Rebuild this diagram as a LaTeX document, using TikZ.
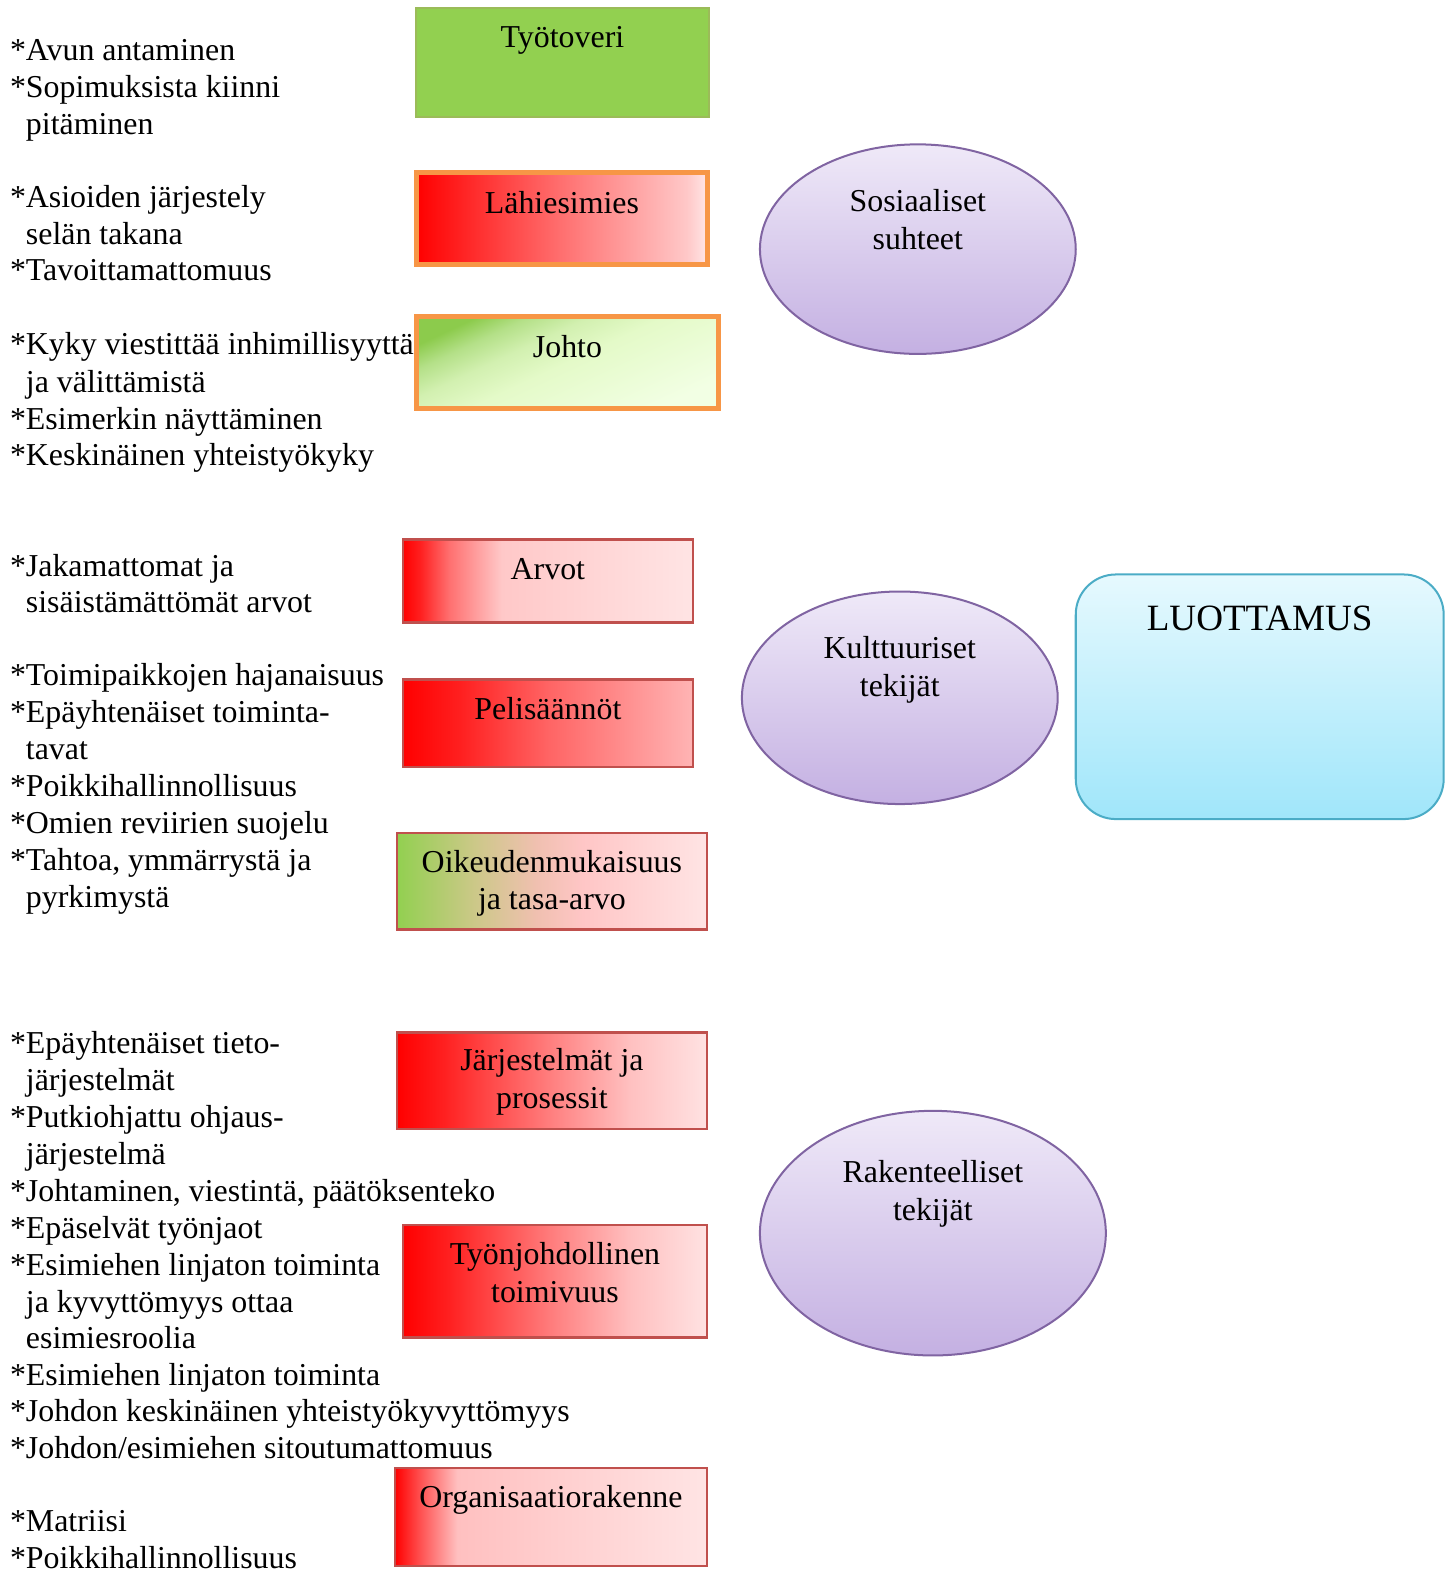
\documentclass[tikz,border=0pt]{standalone}
\usepackage{fontspec}
\setmainfont{Liberation Serif}
\usetikzlibrary{shapes.geometric}
\definecolor{grn}{HTML}{92D050}
\definecolor{grnb}{HTML}{9BBB59}
\definecolor{orng}{HTML}{F79646}
\definecolor{boxred}{HTML}{C0504D}
\definecolor{purp}{HTML}{8064A2}
\definecolor{ellT}{HTML}{EFE9F8}
\definecolor{ellB}{HTML}{C4B0E2}
\definecolor{luoT}{HTML}{E6F9FE}
\definecolor{luoB}{HTML}{A0E6FA}
\definecolor{luoD}{HTML}{4BACC6}
\definecolor{rR}{HTML}{FF0000}
\definecolor{lA}{HTML}{FF7070}
\definecolor{lB}{HTML}{FFC8C8}
\definecolor{lC}{HTML}{FFE6E6}
\definecolor{aZ}{HTML}{FF2020}
\definecolor{aA}{HTML}{FF7070}
\definecolor{aB}{HTML}{FFC8C8}
\definecolor{aC}{HTML}{FFE4E4}
\definecolor{pA}{HTML}{FF2020}
\definecolor{pB}{HTML}{FF6464}
\definecolor{pC}{HTML}{FFB4B4}
\definecolor{oA}{HTML}{CCC888}
\definecolor{oB}{HTML}{F0C0B0}
\definecolor{oC}{HTML}{FFC6C6}
\definecolor{oD}{HTML}{FFE4E4}
\definecolor{jA}{HTML}{FF2020}
\definecolor{jB}{HTML}{FF8080}
\definecolor{jC}{HTML}{FFC0C0}
\definecolor{jD}{HTML}{FFE2E2}
\definecolor{gA}{HTML}{FF5050}
\definecolor{gB}{HTML}{FFC0C0}
\definecolor{gC}{HTML}{FFE4E4}
\definecolor{hA}{HTML}{F2FFE4}
\definecolor{hB}{HTML}{E4FAC8}
\definecolor{hC}{HTML}{D2F0B0}
\definecolor{hE}{HTML}{B4E088}
\definecolor{hD}{HTML}{8CCB4C}
\pgfdeclarehorizontalshading{lahishade}{100bp}{color(0bp)=(rR); color(25bp)=(rR); color(50bp)=(lA); color(71.5bp)=(lB); color(75bp)=(lC); color(100bp)=(lC)}
\pgfdeclarehorizontalshading{arvoshade}{100bp}{color(0bp)=(rR); color(25bp)=(rR); color(28bp)=(aZ); color(33bp)=(aA); color(42bp)=(aB); color(75bp)=(aC); color(100bp)=(aC)}
\pgfdeclarehorizontalshading{pelishade}{100bp}{color(0bp)=(rR); color(25bp)=(rR); color(35bp)=(pA); color(50bp)=(pB); color(75bp)=(pC); color(100bp)=(pC)}
\pgfdeclarehorizontalshading{oikeushade}{100bp}{color(0bp)=(grn); color(25bp)=(grn); color(37.5bp)=(oA); color(47.5bp)=(oB); color(55bp)=(oC); color(75bp)=(oD); color(100bp)=(oD)}
\pgfdeclarehorizontalshading{jarjshade}{100bp}{color(0bp)=(rR); color(25bp)=(rR); color(32.5bp)=(jA); color(50bp)=(jB); color(62.5bp)=(jC); color(75bp)=(jD); color(100bp)=(jD)}
\pgfdeclarehorizontalshading{orgshade}{100bp}{color(0bp)=(rR); color(25bp)=(rR); color(29bp)=(gA); color(35bp)=(gB); color(75bp)=(gC); color(100bp)=(gC)}
\pgfdeclareverticalshading{johtoshade}{100bp}{color(0bp)=(hA); color(25bp)=(hA); color(50bp)=(hB); color(60bp)=(hC); color(68bp)=(hE); color(75bp)=(hD); color(100bp)=(hD)}
\tikzset{
  txt/.style={font=\fontsize{15.9}{18.5}\selectfont, inner sep=0pt, outer sep=0pt},
  lt/.style={txt, anchor=base west},
  ct/.style={txt, anchor=base},
  rbox/.style={draw=boxred, line width=1.25pt, inner sep=0pt, outer sep=0pt},
  obox/.style={draw=orng, line width=2.5pt, inner sep=0pt, outer sep=0pt},
  ell/.style={ellipse, draw=purp, line width=1pt, top color=ellT, bottom color=ellB, inner sep=0pt},
}
\begin{document}
\begin{tikzpicture}[x=0.5pt,y=-0.5pt]
\useasboundingbox (0,0) rectangle (1448,1568);
% boxes
\node[draw=grnb, line width=1pt, fill=grn, inner sep=0pt, minimum width=146pt, minimum height=54.5pt] (tyotoveri) at (561,62.5) {};
\node[obox, shading=lahishade, minimum width=145pt, minimum height=45.5pt] (lahi) at (560.5,218) {};
\node[obox, shading=johtoshade, shading angle=25, minimum width=150.5pt, minimum height=46pt] (johto) at (566,361.5) {};
\node[rbox, shading=arvoshade, minimum width=144.5pt, minimum height=41.5pt] (arvot) at (546.5,579.5) {};
\node[rbox, shading=pelishade, minimum width=144.5pt, minimum height=43.5pt] (peli) at (546.5,721.5) {};
\node[rbox, shading=oikeushade, minimum width=154.5pt, minimum height=48pt] (oikeus) at (550.5,879) {};
\node[rbox, shading=jarjshade, minimum width=154.5pt, minimum height=48pt] (jarj) at (550.5,1078) {};
\node[rbox, shading=jarjshade, minimum width=151.5pt, minimum height=56pt] (tyonj) at (553.5,1278) {};
\node[rbox, shading=orgshade, minimum width=155.5pt, minimum height=49pt] (org) at (549.5,1513) {};
% box labels
\node[ct] (t1) at (561,47) {Työtoveri};
\node[ct] (t2) at (560.5,213) {Lähiesimies};
\node[ct] (t3) at (566,357) {Johto};
\node[ct] (t4) at (546.5,578) {Arvot};
\node[ct] (t5) at (546.5,718) {Pelisäännöt};
\node[ct] (t6a) at (550.5,870) {Oikeudenmukaisuus};
\node[ct] (t6b) at (550.5,907) {ja tasa-arvo};
\node[ct] (t7a) at (550.5,1068) {Järjestelmät ja};
\node[ct] (t7b) at (550.5,1106) {prosessit};
\node[ct] (t8a) at (553.5,1261) {Työnjohdollinen};
\node[ct] (t8b) at (553.5,1299) {toimivuus};
\node[ct] (t9) at (549.5,1504) {Organisaatiorakenne};
% ellipses
\node[ell, minimum width=157.5pt, minimum height=104.5pt] (sos) at (915.5,248.5) {};
\node[ct] (sosA) at (915.5,211) {Sosiaaliset};
\node[ct] (sosB) at (915.5,249) {suhteet};
\node[ell, minimum width=157.5pt, minimum height=106pt] (kult) at (897.5,696) {};
\node[ct] (kultA) at (897.5,657) {Kulttuuriset};
\node[ct] (kultB) at (897.5,695) {tekijät};
\node[ell, minimum width=172.5pt, minimum height=122pt] (rak) at (930.5,1230) {};
\node[ct] (rakA) at (930.5,1179) {Rakenteelliset};
\node[ct] (rakB) at (930.5,1217) {tekijät};
% LUOTTAMUS
\node[draw=luoD, line width=1pt, top color=luoT, bottom color=luoB, rounded corners=20pt, inner sep=0pt, minimum width=183.5pt, minimum height=122pt] (luot) at (1256.5,695) {};
\node[txt, anchor=base, font=\fontsize{18.5}{21}\selectfont] (luotT) at (1256.5,629) {LUOTTAMUS};
% left texts
\foreach \y/\t in {
  50/{*Avun antaminen},
  87/{*Sopimuksista kiinni},
  124/{\phantom{*}pitäminen},
  197/{*Asioiden järjestely},
  234/{\phantom{*}selän takana},
  270/{*Tavoittamattomuus},
  344/{*Kyky viestittää inhimillisyyttä},
  381/{\phantom{*}ja välittämistä},
  418/{*Esimerkin näyttäminen},
  454/{*Keskinäinen yhteistyökyky},
  565/{*Jakamattomat ja},
  601/{\phantom{*}sisäistämättömät arvot},
  674/{*Toimipaikkojen hajanaisuus},
  711/{*Epäyhtenäiset toiminta-},
  748/{\phantom{*}tavat},
  784/{*Poikkihallinnollisuus},
  821/{*Omien reviirien suojelu},
  858/{*Tahtoa, ymmärrystä ja},
  895/{\phantom{*}pyrkimystä},
  1041/{*Epäyhtenäiset tieto-},
  1078/{\phantom{*}järjestelmät},
  1115/{*Putkiohjattu ohjaus-},
  1152/{\phantom{*}järjestelmä},
  1188/{*Johtaminen, viestintä, päätöksenteko},
  1225/{*Epäselvät työnjaot},
  1262/{*Esimiehen linjaton toiminta},
  1299/{\phantom{*}ja kyvyttömyys ottaa},
  1335/{\phantom{*}esimiesroolia},
  1372/{*Esimiehen linjaton toiminta},
  1408/{*Johdon keskinäinen yhteistyökyvyttömyys},
  1445/{*Johdon/esimiehen sitoutumattomuus},
  1518/{*Matriisi},
  1554/{*Poikkihallinnollisuus}}
  {\node[lt] (L\y) at (10,\y+10) {\t};}
\end{tikzpicture}
\end{document}
